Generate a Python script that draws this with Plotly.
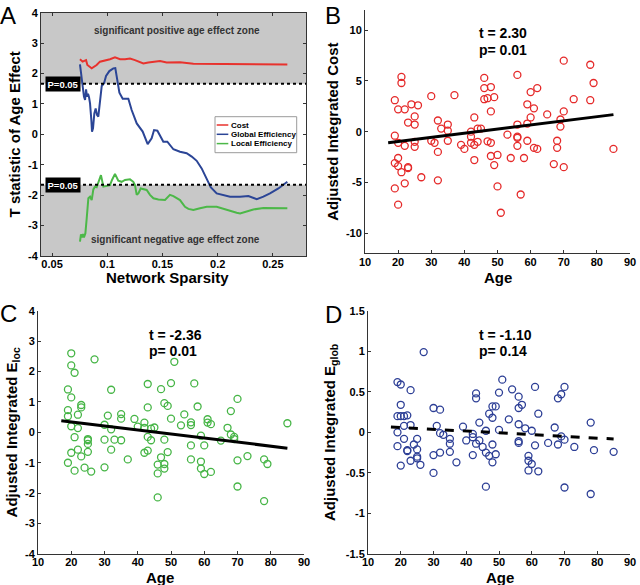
import plotly.graph_objects as go

FONT = "Liberation Sans, Arial, sans-serif"

# ---------------- Panel A data ----------------
cost_s = [0.0753, 0.0777, 0.0808, 0.0820, 0.0859, 0.0904, 0.0934, 0.0980, 0.1025, 0.1070,
          0.1116, 0.1161, 0.1206, 0.1251, 0.1297, 0.1327, 0.1372, 0.1433, 0.1478, 0.1538,
          0.1599, 0.1659, 0.1780, 0.1901, 0.2082, 0.2263, 0.2444, 0.2631]
cost_t = [2.47, 2.39, 2.44, 2.28, 2.17, 2.28, 2.39, 2.42, 2.47, 2.53,
          2.47, 2.47, 2.49, 2.44, 2.36, 2.33, 2.36, 2.40, 2.41, 2.36,
          2.37, 2.37, 2.32, 2.32, 2.30, 2.30, 2.31, 2.30]

glob_s = [0.0753, 0.0777, 0.0789, 0.0799, 0.0808, 0.0817, 0.0826, 0.0835, 0.0844, 0.0856,
          0.0862, 0.0871, 0.0883, 0.0895, 0.0907, 0.0919, 0.0934, 0.0950, 0.0971, 0.0989,
          0.1019, 0.1055, 0.1073, 0.1091, 0.1110, 0.1140, 0.1191, 0.1221, 0.1267, 0.1321,
          0.1366, 0.1402, 0.1424, 0.1454, 0.1508, 0.1544, 0.1599, 0.1659, 0.1719, 0.1765,
          0.1810, 0.1855, 0.1895, 0.1937, 0.1991, 0.2036, 0.2112, 0.2203, 0.2278, 0.2354,
          0.2414, 0.2474, 0.2550, 0.2631]
glob_t = [2.30, 1.57, 1.24, 1.13, 1.48, 1.24, 1.33, 1.22, 1.02, 0.47,
          0.09, 0.20, 0.69, 0.85, 0.64, 0.58, 1.13, 1.59, 1.68, 1.92,
          2.08, 2.17, 2.18, 1.79, 1.37, 1.17, 1.17, 0.80, 0.36, 0.09,
          -0.32, -0.13, 0.14, 0.12, -0.24, -0.24, -0.49, -0.57, -0.62, -0.73,
          -0.87, -1.12, -1.45, -1.74, -1.94, -1.99, -2.05, -2.05, -2.03, -2.13,
          -2.05, -1.94, -1.78, -1.56]

loc_s = [0.0753, 0.0762, 0.0771, 0.0780, 0.0789, 0.0802, 0.0814, 0.0829, 0.0844, 0.0859,
         0.0874, 0.0889, 0.0904, 0.0919, 0.0943, 0.0965, 0.0995, 0.1025, 0.1043, 0.1070,
         0.1100, 0.1131, 0.1161, 0.1206, 0.1236, 0.1251, 0.1267, 0.1282, 0.1303, 0.1327,
         0.1357, 0.1387, 0.1418, 0.1463, 0.1523, 0.1568, 0.1599, 0.1659, 0.1704, 0.1735,
         0.1780, 0.1840, 0.1901, 0.1991, 0.2082, 0.2172, 0.2203, 0.2263, 0.2323, 0.2414,
         0.2504, 0.2631]
loc_t = [-3.53, -3.29, -3.39, -3.28, -3.39, -3.25, -2.76, -2.10, -2.05, -2.16,
         -1.81, -1.72, -1.74, -1.56, -1.34, -1.72, -1.70, -1.67, -1.50, -1.30,
         -1.52, -1.56, -1.50, -1.48, -1.56, -1.67, -1.99, -1.94, -1.78, -1.81,
         -1.83, -1.99, -2.10, -2.14, -2.16, -1.99, -2.03, -2.16, -2.38, -2.45,
         -2.49, -2.43, -2.38, -2.38, -2.49, -2.58, -2.60, -2.54, -2.47, -2.42,
         -2.43, -2.43]

p_threshold = 1.66
a_xticks = [0.05, 0.1, 0.15, 0.2, 0.25]
a_yticks = [-4, -3, -2, -1, 0, 1, 2, 3, 4]

# ---------------- Panel B data ----------------
cost_age = [19, 19, 19, 19, 20, 21, 21, 20, 20, 20, 21, 20, 22, 22, 22, 23, 23, 23, 24, 25,
            25, 25, 25, 26, 27, 30, 30, 31, 32, 32, 32, 33, 35, 35, 35, 37, 39, 40, 42, 42,
            42, 43, 43, 43, 44, 44, 45, 46, 46, 46, 47, 47, 48, 48, 48, 48, 49, 49, 50, 50,
            51, 53, 54, 56, 56, 56, 56, 56, 57, 58, 59, 59, 59, 60, 60, 61, 61, 62, 62, 65,
            67, 68, 68, 69, 69, 70, 70, 70, 73, 78, 78, 79, 85]
cost_val = [3.1, -0.4, -3.1, -5.6, 2.2, 5.4, 4.8, -1.1, -2.6, -3.4, -4.0, -7.2, 2.2, -1.4, -5.1,
            0.9, -3.5, -3.6, 2.7, 1.5, 0.7, -1.0, -1.5, 2.6, -4.5, 3.5, -0.9, -1.1, 1.1, -2.0,
            -4.8, 0.3, 0.7, 0.1, -0.9, 3.6, -1.3, -1.7, 0.0, -0.5, -1.1, 1.4, -1.3, -2.8, 0.3,
            -1.0, 0.3, 5.3, 4.3, 3.2, 3.3, -0.95, 4.4, 2.0, -1.1, -2.4, 3.4, -3.3, -2.3, -5.4,
            -8.0, -0.3, -2.6, 5.6, 0.7, -0.5, -0.6, -1.4, -6.2, -2.6, 2.7, 0.8, -0.9, 3.9, 1.4,
            2.3, -1.6, 4.3, -1.7, 1.7, -3.2, -0.9, -1.6, 1.2, 0.5, 7.0, 2.0, -3.5, 3.2, 6.6,
            3.1, 4.8, -1.7]
cost_fit_age = [17, 85]
cost_fit_val = [-1.09, 1.68]
b_yticks = [-10, -5, 0, 5, 10]

# ---------------- Panel C data ----------------
eloc_age = [19, 19, 19, 19, 20, 20, 20, 20, 20, 21, 21, 21, 22, 22, 22, 23, 23, 23, 24, 25,
            25, 25, 25, 26, 27, 30, 30, 30, 31, 32, 32, 32, 33, 35, 35, 35, 37, 39, 40, 42,
            42, 42, 43, 43, 43, 43, 44, 44, 45, 46, 46, 46, 47, 47, 48, 48, 48, 48, 49, 49,
            50, 50, 51, 53, 54, 56, 56, 56, 56, 57, 58, 59, 59, 59, 60, 60, 61, 61, 62, 62,
            65, 67, 68, 68, 69, 69, 70, 70, 70, 73, 78, 78, 79, 85]
eloc_val = [1.41, 0.73, 0.53, -1.0, 2.6, 2.2, 1.15, 0.2, -0.67, 1.96, -0.16, -1.26, 0.58, 0.14,
            -0.57, 0.9, 0.82, -0.79, -1.16, -0.22, -0.26, -0.38, -0.64, -1.29, 2.4, 0.25, -0.24,
            -1.15, 0.55, 1.4, 0.1, -0.57, -0.24, 0.6, 0.45, -0.26, -0.89, 0.44, 0.19, 0.32, 0.15,
            -0.67, 1.59, 0.82, -0.15, -0.6, 0.12, -0.26, 0.16, -1.06, -1.35, -2.14, 1.42, -0.82,
            0.96, -0.24, -1.04, -1.19, 0.87, -0.65, 1.62, 0.45, 2.32, 0.23, 0.59, 0.33, 0.24,
            -0.43, -0.89, 1.61, 0.85, -0.11, -0.96, -1.19, -0.43, -1.37, 0.43, 0.32, 0.27, -1.3,
            -0.27, 0.15, 0.7, -0.07, -0.15, -0.22, 1.1, -0.92, -1.78, -0.78, -0.89, -2.26,
            -1.04, 0.3]
eloc_fit_age = [17, 85]
eloc_fit_val = [0.38, -0.52]
c_yticks = [-4, -3, -2, -1, 0, 1, 2, 3, 4]

# ---------------- Panel D data ----------------
eglob_age = [19, 19, 19, 19, 20, 20, 20, 20, 21, 21, 21, 22, 22, 22, 23, 23, 23, 24, 25, 25,
             25, 25, 26, 27, 30, 30, 30, 31, 32, 32, 32, 33, 35, 35, 35, 37, 39, 40, 42, 42,
             42, 43, 43, 43, 44, 44, 45, 46, 46, 46, 47, 47, 48, 48, 48, 48, 49, 49, 50, 50,
             51, 53, 54, 56, 56, 56, 56, 56, 57, 58, 59, 59, 59, 60, 60, 61, 61, 62, 62, 65,
             67, 68, 68, 69, 69, 70, 70, 70, 73, 78, 78, 79, 85]
eglob_val = [0.62, 0.2, 0.0, -0.17, 0.59, 0.34, -0.41, 0.2, 0.2, 0.08, -0.08, 0.21, -0.22, -0.23,
             0.52, 0.09, -0.35, -0.15, -0.08, -0.21, -0.30, -0.32, -0.40, 0.99, 0.3, -0.28, -0.5,
             0.08, 0.28, -0.01, -0.25, -0.03, -0.08, -0.14, -0.24, -0.37, 0.07, -0.1, -0.02,
             -0.06, -0.28, 0.48, 0.42, -0.14, 0.12, -0.1, -0.18, 0.02, -0.25, -0.67, 0.23, -0.29,
             0.32, 0.18, -0.15, -0.37, 0.32, -0.27, 0.49, 0.03, 0.65, 0.16, 0.53, 0.44, 0.3, 0.1,
             -0.11, -0.13, 0.34, 0.05, -0.29, -0.35, -0.47, 0.02, -0.39, 0.56, -0.16, 0.23, -0.48,
             -0.13, 0.06, 0.42, -0.15, 0.47, -0.05, 0.56, -0.09, -0.68, -0.18, 0.12, -0.76,
             -0.22, -0.24]
eglob_fit_age = [17, 85]
eglob_fit_val = [0.066, -0.082]
d_yticks = [-1.5, -1, -0.5, 0, 0.5, 1, 1.5]

age_ticks = [10, 20, 30, 40, 50, 60, 70, 80, 90]

RED_LINE, BLUE_LINE, GREEN_LINE = "#e8322d", "#2b4596", "#4cb848"
RED_PT, BLUE_PT, GREEN_PT = "#e52a2a", "#2d3f96", "#46b546"
GREY_ZONE = "#c8c8c8"

fig = go.Figure()

# Panel A lines
fig.add_trace(go.Scatter(x=cost_s, y=cost_t, mode="lines", name="Cost", showlegend=False,
                         line=dict(color=RED_LINE, width=2), xaxis="x", yaxis="y"))
fig.add_trace(go.Scatter(x=glob_s, y=glob_t, mode="lines", name="Global Efficiency", showlegend=False,
                         line=dict(color=BLUE_LINE, width=2), xaxis="x", yaxis="y"))
fig.add_trace(go.Scatter(x=loc_s, y=loc_t, mode="lines", name="Local Efficiency", showlegend=False,
                         line=dict(color=GREEN_LINE, width=2), xaxis="x", yaxis="y"))

marker_common = dict(symbol="circle-open", size=7)
fig.add_trace(go.Scatter(x=cost_age, y=cost_val, mode="markers", showlegend=False,
                         marker=dict(color=RED_PT, line=dict(width=1.3), **marker_common),
                         xaxis="x2", yaxis="y2"))
fig.add_trace(go.Scatter(x=cost_fit_age, y=cost_fit_val, mode="lines", showlegend=False,
                         line=dict(color="black", width=3), xaxis="x2", yaxis="y2"))
fig.add_trace(go.Scatter(x=eloc_age, y=eloc_val, mode="markers", showlegend=False,
                         marker=dict(color=GREEN_PT, line=dict(width=1.3), **marker_common),
                         xaxis="x3", yaxis="y3"))
fig.add_trace(go.Scatter(x=eloc_fit_age, y=eloc_fit_val, mode="lines", showlegend=False,
                         line=dict(color="black", width=3), xaxis="x3", yaxis="y3"))
fig.add_trace(go.Scatter(x=eglob_age, y=eglob_val, mode="markers", showlegend=False,
                         marker=dict(color=BLUE_PT, line=dict(width=1.3), **marker_common),
                         xaxis="x4", yaxis="y4"))
fig.add_trace(go.Scatter(x=eglob_fit_age, y=eglob_fit_val, mode="lines", showlegend=False,
                         line=dict(color="black", width=3, dash="dash"), xaxis="x4", yaxis="y4"))

W, H = 640, 585
def xd(a, b):
    return [a / W, b / W]
def yd(top, bottom):
    return [1 - bottom / H, 1 - top / H]

tickfont = dict(family=FONT, size=11, color="black")
titlefont = dict(family=FONT, size=15, color="black", weight="bold")

def axis(domain, rng, anchor, ticks, title=None, standoff=4, mirror=False, lab_off=0):
    d = dict(domain=domain, range=rng, anchor=anchor, showgrid=False, zeroline=False,
             showline=True, linecolor="#333333", linewidth=1, ticks="inside", ticklen=3,
             tickcolor="#333333", tickfont=tickfont, automargin=False, mirror=mirror,
             ticklabeloverflow="allow", ticklabelstandoff=lab_off,
             tickvals=ticks, ticktext=["<b>%g</b>" % v for v in ticks])
    if title is not None:
        d["title"] = dict(text=title, font=titlefont, standoff=standoff)
    return d

fig.update_layout(
    width=W, height=H, margin=dict(l=0, r=0, t=0, b=0),
    paper_bgcolor="white", plot_bgcolor="white",
    font=dict(family=FONT),
    showlegend=False,
    xaxis=axis(xd(41, 306), [0.04, 0.28], "y", a_xticks, mirror="ticks", lab_off=-2),
    yaxis=axis(yd(12.7, 256), [-4, 4], "x", a_yticks, title="T statistic of Age Effect",
               standoff=3, mirror="ticks"),
    xaxis2=axis(xd(365, 630), [10, 90], "y2", age_ticks, lab_off=-2),
    yaxis2=axis(yd(10, 253.3), [-12, 12], "x2", b_yticks, title="Adjusted Integrated Cost", standoff=3),
    xaxis3=axis(xd(38, 304), [10, 90], "y3", age_ticks, lab_off=-2),
    yaxis3=axis(yd(310.7, 554), [-4, 4], "x3", c_yticks,
                title="Adjusted Integrated E<sub>loc</sub>", standoff=3),
    xaxis4=axis(xd(368, 630), [10, 90], "y4", age_ticks, lab_off=-2),
    yaxis4=axis(yd(310.7, 554), [-1.5, 1.5], "x4", d_yticks,
                title="Adjusted Integrated E<sub>glob</sub>", standoff=6),
)

# x-axis titles
for txt, px, py in [("Network Sparsity", 167, 277), ("Age", 498, 277),
                    ("Age", 160, 577), ("Age", 500, 577)]:
    fig.add_annotation(xref="paper", yref="paper", x=px / W, y=1 - py / H, text=txt,
                       showarrow=False, font=titlefont, xanchor="center", yanchor="middle")

# Grey significance zones & threshold lines in panel A
for y0, y1 in [(p_threshold, 4), (-4, -p_threshold)]:
    fig.add_shape(type="rect", xref="x domain", yref="y", x0=0, x1=1, y0=y0, y1=y1,
                  fillcolor=GREY_ZONE, line=dict(width=0), layer="below")
for yv in [p_threshold, -p_threshold]:
    fig.add_shape(type="line", xref="x domain", yref="y", x0=0, x1=1, y0=yv, y1=yv,
                  line=dict(color="black", width=2, dash="dot"))
    fig.add_annotation(xref="x domain", yref="y", x=0.015, y=yv, xanchor="left",
                       text="P=0.05", showarrow=False, bgcolor="black", borderpad=1.5,
                       font=dict(family=FONT, size=9.5, color="white", weight="bold"))

zone_font = dict(family=FONT, size=10, color="#333333", weight="bold")
fig.add_annotation(xref="x", yref="y", x=0.1632, y=3.43, text="significant positive age effect zone",
                   showarrow=False, font=zone_font)
fig.add_annotation(xref="x", yref="y", x=0.1614, y=-3.47, text="significant negative age effect zone",
                   showarrow=False, font=zone_font)

# Legend box for panel A (drawn to match the compact original legend)
leg_x0, leg_x1, leg_top, leg_bot = 215, 296.7, 116.7, 152.7
fig.add_shape(type="rect", xref="paper", yref="paper", x0=leg_x0 / W, x1=leg_x1 / W,
              y0=1 - leg_bot / H, y1=1 - leg_top / H, fillcolor="white",
              line=dict(color="#9a9a9a", width=1))
leg_font = dict(family=FONT, size=8, color="black", weight="bold")
for name, col, py in [("Cost", RED_LINE, 125), ("Global Efficiency", BLUE_LINE, 134.3),
                      ("Local Efficiency", GREEN_LINE, 143.6)]:
    fig.add_shape(type="line", xref="paper", yref="paper", x0=216.7 / W, x1=228.3 / W,
                  y0=1 - py / H, y1=1 - py / H, line=dict(color=col, width=1.5))
    fig.add_annotation(xref="paper", yref="paper", x=228.8 / W, y=1 - py / H, text=name,
                       showarrow=False, font=leg_font, xanchor="left", yanchor="middle")

# statistics annotations
stat_font = dict(family=FONT, size=14, color="black", weight="bold")
stats = [
    ("x2 domain", "y2 domain", (476.7 - 365) / 265, 10, 253.3, 33, 50, "t = 2.30", "p= 0.01"),
    ("x3 domain", "y3 domain", (146.7 - 38) / 266, 310.7, 554, 335, 351, "t = -2.36", "p= 0.01"),
    ("x4 domain", "y4 domain", (477.3 - 368) / 262, 310.7, 554, 335, 351, "t = -1.10", "p= 0.14"),
]
for xr, yr, xf, top, bot, ya, yb, t, p in stats:
    for ypx, txt in [(ya, t), (yb, p)]:
        fig.add_annotation(xref=xr, yref=yr, x=xf, y=(bot - ypx) / (bot - top), xanchor="left",
                           yanchor="middle", text=txt, showarrow=False, font=stat_font)

# Panel letters
letter_font = dict(family=FONT, size=24, color="black")
for letter, px, py in [("A", 8, 0), ("B", 333, 0), ("C", 8, 298), ("D", 333, 299)]:
    fig.add_annotation(xref="paper", yref="paper", x=px / W, y=1 - py / H, text=letter,
                       showarrow=False, font=letter_font, xanchor="center", yanchor="top")

fig.write_html("out.html", config={"displayModeBar": False},
               post_script="document.body.style.margin='0';")
